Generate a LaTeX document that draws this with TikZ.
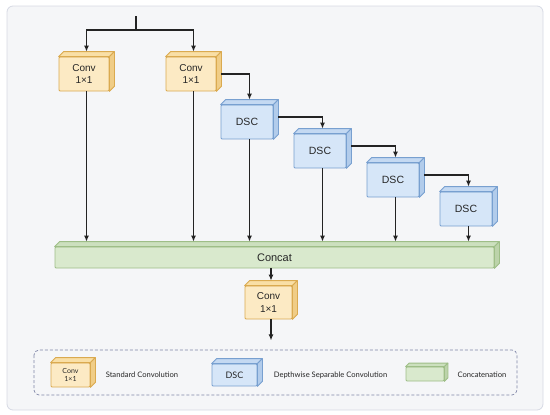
\documentclass[tikz,border=0pt]{standalone}
\usepackage{fontspec}
\setmainfont{Liberation Sans}
\newfontfamily\legendfont{Lato}
\usetikzlibrary{arrows.meta,calc}

\definecolor{framebg}{RGB}{245,246,248}
\definecolor{frameline}{RGB}{214,217,228}
\definecolor{legendline}{RGB}{128,134,168}
\definecolor{linegray}{RGB}{35,35,35}
\definecolor{convfront}{RGB}{252,234,196}
\definecolor{convtop}{RGB}{249,223,166}
\definecolor{convside}{RGB}{240,205,135}
\definecolor{convline}{RGB}{218,170,80}
\definecolor{dscfront}{RGB}{214,230,248}
\definecolor{dsctop}{RGB}{196,217,242}
\definecolor{dscside}{RGB}{178,204,235}
\definecolor{dscline}{RGB}{120,160,208}
\definecolor{catfront}{RGB}{217,233,205}
\definecolor{cattop}{RGB}{204,224,190}
\definecolor{catside}{RGB}{188,211,170}
\definecolor{catline}{RGB}{158,190,135}

% top and right faces of a box node: node, depth, colour prefix
\newcommand{\boxfaces}[3]{%
  \filldraw[draw=#3line, fill=#3top, line join=round, line width=0.8pt]
    (#1.north west) -- ($(#1.north west)+(#2,-#2)$) -- ($(#1.north east)+(#2,-#2)$)
    -- (#1.north east) -- cycle;
  \filldraw[draw=#3line, fill=#3side, line join=round, line width=0.8pt]
    (#1.north east) -- ($(#1.north east)+(#2,-#2)$) -- ($(#1.south east)+(#2,-#2)$)
    -- (#1.south east) -- cycle;
}

\begin{document}
\begin{tikzpicture}[x=1pt, y=-1pt,
    flow/.style={draw=linegray, line width=1.1pt, -{Latex[length=6pt,width=5pt]}},
    link/.style={draw=linegray, line width=1.1pt},
    convbox/.style={draw=convline, fill=convfront, rounded corners=1pt, inner sep=0pt,
      line width=0.8pt, minimum width=50pt, minimum height=34pt, align=center,
      text=black!85, font=\fontsize{10}{12.5}\selectfont},
    dscbox/.style={draw=dscline, fill=dscfront, rounded corners=1pt, inner sep=0pt,
      line width=0.8pt, minimum width=52pt, minimum height=34pt, text=black!85,
      font=\fontsize{10.5}{12}\selectfont},
    catbox/.style={draw=catline, fill=catfront, rounded corners=1pt, inner sep=0pt,
      line width=0.8pt, minimum width=439pt, minimum height=21pt, text=black!85,
      font=\fontsize{11}{13}\selectfont},
    keytext/.style={text=black!85, font=\legendfont\fontsize{7.6}{9}\selectfont}]
  \useasboundingbox (0,0) rectangle (550,415);
  \filldraw[draw=frameline, fill=framebg, rounded corners=6pt, line width=0.8pt]
    (7,6) rectangle (543,410);

  % blocks
  \node[convbox] (conva) at (84,74) {Conv\\1×1};
  \node[convbox] (convb) at (191,74) {Conv\\1×1};
  \node[dscbox] (dsca) at (247,122) {DSC};
  \node[dscbox] (dscb) at (320,151) {DSC};
  \node[dscbox] (dscc) at (393,180) {DSC};
  \node[dscbox] (dscd) at (466,209) {DSC};
  \node[catbox] (concat) at (274.5,257.5) {Concat};
  \node[convbox, minimum width=47pt, minimum height=33pt] (convc) at (268.5,302.5) {Conv\\1×1};
  \foreach \n in {conva,convb,convc} {\boxfaces{\n}{5}{conv}}
  \foreach \n in {dsca,dscb,dscc,dscd} {\boxfaces{\n}{5}{dsc}}
  \boxfaces{concat}{5}{cat}

  % connectors
  \coordinate (in) at (136,16);
  \coordinate (split) at (136,30);
  \coordinate (cattop) at ($(concat.north)+(0,-5)$);
  \coordinate (out) at ($(convc.south)+(2.5,21)$);
  \draw[link] (in) -- (split);
  \draw[flow] (split) -| ($(conva.north)+(2.5,-5)$);
  \draw[flow] (split) -| ($(convb.north)+(2.5,-5)$);
  \draw[flow] ($(convb.east)+(5,0)$) -| ($(dsca.north)+(2.5,-5)$);
  \draw[flow] ($(dsca.east)+(5,-5)$) -| ($(dscb.north)+(2.5,-5)$);
  \draw[flow] ($(dscb.east)+(5,-5)$) -| ($(dscc.north)+(2.5,-5)$);
  \draw[flow] ($(dscc.east)+(5,-5)$) -| ($(dscd.north)+(2.5,-5)$);
  \foreach \n in {conva,convb,dsca,dscb,dscc,dscd}
    \draw[flow] ($(\n.south)+(2.5,0)$) -- ($(\n.south |- cattop)+(2.5,0)$);
  \draw[flow] ($(concat.south -| convc.north)+(2.5,0)$) -- ($(convc.north)+(2.5,-5)$);
  \draw[flow] ($(convc.south)+(2.5,0)$) -- (out);

  % legend
  \draw[draw=legendline, dash pattern=on 3pt off 2pt, rounded corners=5pt, line width=0.7pt]
    (34,350) rectangle (517,395);
  \node[convbox, minimum width=39pt, minimum height=24pt,
    font=\legendfont\fontsize{7}{8.5}\selectfont] (keyconv) at (70.5,375) {Conv\\1×1};
  \boxfaces{keyconv}{5}{conv}
  \node[keytext] (keyconvtext) at (142,375) {Standard Convolution};
  \node[dscbox, minimum width=45pt, minimum height=22pt,
    font=\legendfont\fontsize{9}{10}\selectfont] (keydsc) at (234.5,375) {DSC};
  \boxfaces{keydsc}{5}{dsc}
  \node[keytext] (keydsctext) at (330.5,375) {Depthwise Separable Convolution};
  \node[catbox, minimum width=38pt, minimum height=14pt] (keycat) at (425,374) {};
  \boxfaces{keycat}{3.5}{cat}
  \node[keytext] (keycattext) at (482,375) {Concatenation};
\end{tikzpicture}
\end{document}
